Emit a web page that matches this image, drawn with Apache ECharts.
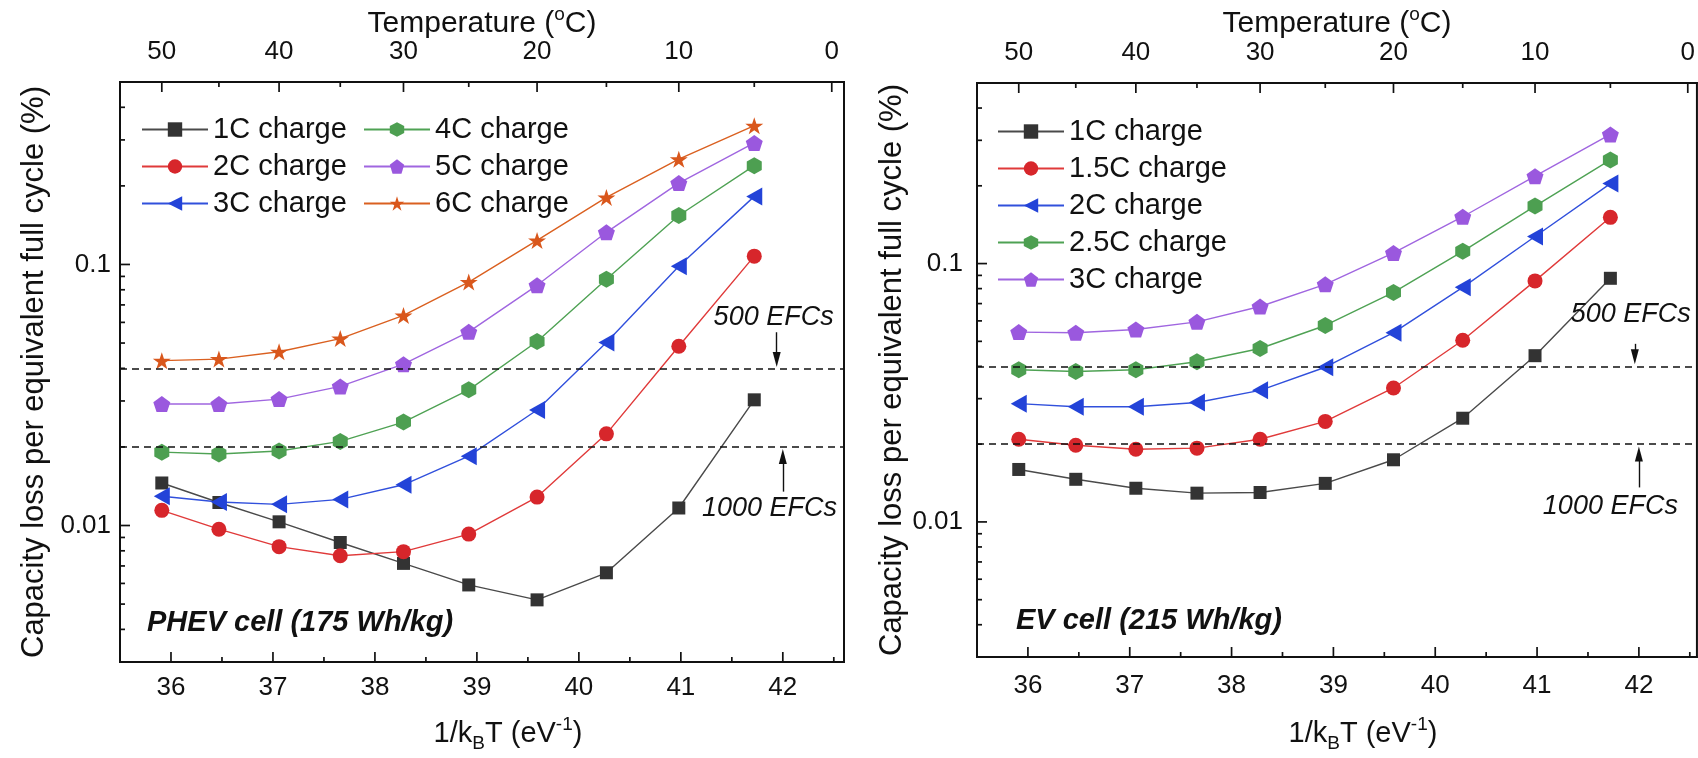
<!DOCTYPE html>
<html>
<head>
<meta charset="utf-8">
<script src="https://cdn.jsdelivr.net/npm/echarts@6/dist/echarts.min.js"></script>
<style>
  html, body { margin: 0; padding: 0; background: #fff; }
  #chart { width: 1698px; height: 758px; }
</style>
</head>
<body>
<div id="chart"></div>
<script>
// 1/kBT (eV^-1) of the test temperatures 50, 45, ..., 5 °C
const invKT = [35.91, 36.47, 37.06, 37.66, 38.28, 38.92, 39.59, 40.27, 40.98, 41.72];

// Temperature scale on the top axis, placed at the matching 1/kBT
const tempLabels = ['50', '40', '30', '20', '10', '0'];
const tempMajorPos = [35.91, 37.06, 38.28, 39.59, 40.98, 42.48];
const tempMinorPos = [36.47, 37.66, 38.92, 40.27, 41.72];

const xMajor = [36, 37, 38, 39, 40, 41, 42];
const xMinor = [36.5, 37.5, 38.5, 39.5, 40.5, 41.5, 42.5];
const yMajor = [0.01, 0.1];
const yMinor = [0.003, 0.004, 0.005, 0.006, 0.007, 0.008, 0.009,
                0.02, 0.03, 0.04, 0.05, 0.06, 0.07, 0.08, 0.09,
                0.2, 0.3, 0.4];

// Capacity loss per EFC (%) - PHEV cell (175 Wh/kg)
const phevNames = ['1C charge', '2C charge', '3C charge', '4C charge', '5C charge', '6C charge'];
const phev1C = [0.01455, 0.01225, 0.01033, 0.00861, 0.00716, 0.00592, 0.00519, 0.00659, 0.01167, 0.0303];
const phev2C = [0.01143, 0.00968, 0.00830, 0.00766, 0.00794, 0.00927, 0.01285, 0.02245, 0.0486, 0.1076];
const phev3C = [0.01294, 0.01231, 0.01205, 0.01259, 0.01432, 0.01844, 0.0277, 0.0502, 0.0985, 0.1823];
const phev4C = [0.0191, 0.0188, 0.0193, 0.0210, 0.0249, 0.0331, 0.0507, 0.0877, 0.154, 0.239];
const phev5C = [0.0292, 0.0292, 0.0305, 0.0341, 0.0415, 0.0552, 0.0832, 0.1328, 0.205, 0.292];
const phev6C = [0.0428, 0.0434, 0.0463, 0.0520, 0.0638, 0.0856, 0.1236, 0.1807, 0.253, 0.340];

// Capacity loss per EFC (%) - EV cell (215 Wh/kg)
const evNames = ['1C charge', '1.5C charge', '2C charge', '2.5C charge', '3C charge'];
const ev1C = [0.01596, 0.01462, 0.01350, 0.01292, 0.01300, 0.01410, 0.01740, 0.0252, 0.0440, 0.0877];
const ev15C = [0.0209, 0.0198, 0.0191, 0.0193, 0.0209, 0.0245, 0.0330, 0.0505, 0.0857, 0.151];
const ev2C = [0.0287, 0.0279, 0.0279, 0.0290, 0.0323, 0.0397, 0.0540, 0.0809, 0.1273, 0.204];
const ev25C = [0.0388, 0.0382, 0.0388, 0.0417, 0.0469, 0.0576, 0.0773, 0.1115, 0.167, 0.252];
const ev3C = [0.0543, 0.0540, 0.0556, 0.0595, 0.0682, 0.0831, 0.1099, 0.1518, 0.218, 0.316];

// Lifetime limits (20 % capacity loss after 500 / 1000 EFCs)
const efcLimits = [0.04, 0.02];

const FONT = '"Liberation Sans", Arial, Helvetica, sans-serif';
const INK = '#111';

const SYM = {
  square: 'rect',
  circle: 'circle',
  triLeft: 'path://M-1,0 L1,-1 L1,1 Z',
  hexagon: 'path://M0,-1 L0.866,-0.5 L0.866,0.5 L0,1 L-0.866,0.5 L-0.866,-0.5 Z',
  pentagon: 'path://M0,-1 L0.951,-0.309 L0.588,0.809 L-0.588,0.809 L-0.951,-0.309 Z',
  star: 'path://M0,-1 L0.2245,-0.309 L0.951,-0.309 L0.363,0.118 L0.588,0.809 L0,0.382 L-0.588,0.809 L-0.363,0.118 L-0.951,-0.309 L-0.2245,-0.309 Z'
};

const STYLES = {
  black:  { mark: '#333333', line: '#4a4a4a', symbol: SYM.square, size: 13 },
  red:    { mark: '#d7262b', line: '#e03a3a', symbol: SYM.circle, size: 15 },
  blue:   { mark: '#2343d8', line: '#3150dc', symbol: SYM.triLeft, size: [16, 18] },
  green:  { mark: '#4d9f51', line: '#4fa254', symbol: SYM.hexagon, size: [15, 17] },
  purple: { mark: '#9a58de', line: '#a066e0', symbol: SYM.pentagon, size: [17, 16] },
  orange: { mark: '#d9571c', line: '#da6020', symbol: SYM.star, size: [18, 17] }
};

const GRIDS = [
  { left: 120, top: 82, width: 724, height: 581 },
  { left: 977, top: 83, width: 720, height: 582 }
];
const xRange = [[35.5, 42.6], [35.5, 42.57]];
const yRange = [0.003, 0.5];

function makeSeries(prefix, name, values, style, gi) {
  return {
    name: prefix + '|' + name,
    type: 'line',
    xAxisIndex: gi * 2,
    yAxisIndex: gi,
    data: invKT.map((x, i) => [x, values[i]]),
    symbol: style.symbol,
    symbolSize: style.size,
    itemStyle: { color: style.mark },
    lineStyle: { color: style.line, width: 1.4 },
    z: 3
  };
}

function limitMarks(p) {
  const dashed = { color: INK, type: [7, 5], width: 1.6 };
  const solid = { color: INK, type: 'solid', width: 1.4 };
  return {
    markLine: {
      silent: true, animation: false, symbol: 'none',
      label: { show: false },
      lineStyle: dashed,
      data: [
        { yAxis: efcLimits[0], lineStyle: dashed },
        { yAxis: efcLimits[1], lineStyle: dashed },
        [{ coord: [p.a500x, p.a500y0], symbol: 'none', lineStyle: solid },
         { coord: [p.a500x, p.a500y1], symbol: 'triangle', symbolSize: [8, 15], lineStyle: solid }],
        [{ coord: [p.a1000x, p.a1000y0], symbol: 'none', lineStyle: solid },
         { coord: [p.a1000x, p.a1000y1], symbol: 'triangle', symbolSize: [8, 15], lineStyle: solid }]
      ]
    },
    markPoint: {
      silent: true, animation: false, symbol: 'circle', symbolSize: 0,
      label: { show: true, position: 'inside', formatter: '{b}', fontFamily: FONT,
               fontSize: 27, fontStyle: 'italic', color: INK },
      data: [
        { name: '500 EFCs', coord: [p.t500x, p.t500y] },
        { name: '1000 EFCs', coord: [p.t1000x, p.t1000y] }
      ]
    }
  };
}

const axisLine = { show: true, lineStyle: { color: INK, width: 2 } };

const scripts = {
  gap: { width: 52, fontSize: 29, fontFamily: FONT },
  sub: { fontSize: 19, lineHeight: 19, fontFamily: FONT, color: INK, verticalAlign: 'bottom' },
  sup: { fontSize: 19, lineHeight: 19, fontFamily: FONT, color: INK, verticalAlign: 'top' }
};

function xAxesFor(gi, labelMargin, nameGap, topLabelMargin, topNameGap) {
  const [min, max] = xRange[gi];
  return [
    { // bottom: 1/kBT
      type: 'value', gridIndex: gi, position: 'bottom', min, max,
      axisLine, axisTick: { show: false },
      axisLabel: { customValues: xMajor, margin: labelMargin, fontSize: 26, color: INK, fontFamily: FONT },
      splitLine: { show: false },
      name: '{gap| }1/k{sub|B}T (eV{sup|-1})', nameLocation: 'middle', nameGap,
      nameTextStyle: { fontSize: 29, lineHeight: 38, color: INK, fontFamily: FONT, rich: scripts }
    },
    { // top: temperature
      type: 'value', gridIndex: gi, position: 'top', min, max,
      axisLine, axisTick: { show: false },
      axisLabel: {
        customValues: tempMajorPos, margin: topLabelMargin, fontSize: 26, color: INK, fontFamily: FONT,
        formatter: v => { const i = tempMajorPos.indexOf(v); return i >= 0 ? tempLabels[i] : ''; }
      },
      splitLine: { show: false },
      name: 'Temperature ({sup|o}C)', nameLocation: 'middle', nameGap: topNameGap, nameMoveOverlap: false,
      nameTextStyle: { fontSize: 30, lineHeight: 38, color: INK, fontFamily: FONT, rich: { sup: scripts.sup } }
    }
  ];
}

function yAxisFor(gi, labelMargin, nameGap) {
  return {
    type: 'log', logBase: 10, gridIndex: gi, min: yRange[0], max: yRange[1],
    axisLine, axisTick: { show: false },
    axisLabel: { customValues: yMajor, margin: labelMargin, fontSize: 26, color: INK, fontFamily: FONT },
    splitLine: { show: false }, minorTick: { show: false },
    name: 'Capacity loss per equivalent full cycle (%)', nameLocation: 'middle', nameGap,
    nameTextStyle: { fontSize: 31, color: INK, fontFamily: FONT }
  };
}

const phevSeries = [
  makeSeries('PHEV', phevNames[0], phev1C, STYLES.black, 0),
  makeSeries('PHEV', phevNames[1], phev2C, STYLES.red, 0),
  makeSeries('PHEV', phevNames[2], phev3C, STYLES.blue, 0),
  makeSeries('PHEV', phevNames[3], phev4C, STYLES.green, 0),
  makeSeries('PHEV', phevNames[4], phev5C, STYLES.purple, 0),
  makeSeries('PHEV', phevNames[5], phev6C, STYLES.orange, 0)
];
Object.assign(phevSeries[0], limitMarks({
  a500x: 41.94, a500y0: 0.055, a500y1: 0.0432,
  a1000x: 42.0, a1000y0: 0.01348, a1000y1: 0.0184,
  t500x: 41.91, t500y: 0.0628, t1000x: 41.87, t1000y: 0.0116
}));

const evSeries = [
  makeSeries('EV', evNames[0], ev1C, STYLES.black, 1),
  makeSeries('EV', evNames[1], ev15C, STYLES.red, 1),
  makeSeries('EV', evNames[2], ev2C, STYLES.blue, 1),
  makeSeries('EV', evNames[3], ev25C, STYLES.green, 1),
  makeSeries('EV', evNames[4], ev3C, STYLES.purple, 1)
];
Object.assign(evSeries[0], limitMarks({
  a500x: 41.96, a500y0: 0.0489, a500y1: 0.0436,
  a1000x: 42.0, a1000y0: 0.0136, a1000y1: 0.0183,
  t500x: 41.92, t500y: 0.0637, t1000x: 41.72, t1000y: 0.0115
}));

function legendCol(left, top, names) {
  return {
    orient: 'vertical', left, top, itemWidth: 66, itemHeight: 18, itemGap: 8,
    data: names,
    formatter: n => n.split('|')[1],
    textStyle: { fontSize: 29, color: INK, fontFamily: FONT }
  };
}

const panelLabels = [
  { type: 'text', left: 147, top: 608, style: { text: 'PHEV cell (175 Wh/kg)', font: 'italic bold 29px ' + FONT, fill: INK } },
  { type: 'text', left: 1016, top: 606, style: { text: 'EV cell (215 Wh/kg)', font: 'italic bold 29px ' + FONT, fill: INK } }
];

const option = {
  animation: false,
  textStyle: { fontFamily: FONT },
  grid: GRIDS.map(g => Object.assign({ show: true, borderColor: INK, borderWidth: 2, backgroundColor: 'transparent' }, g)),
  xAxis: [].concat(xAxesFor(0, 13, 53, 17, 39), xAxesFor(1, 16, 58, 17, 40)),
  yAxis: [yAxisFor(0, 9, 70), yAxisFor(1, 14, 69)],
  legend: [
    legendCol(136, 110, phevSeries.slice(0, 3).map(s => s.name)),
    legendCol(358, 110, phevSeries.slice(3).map(s => s.name)),
    legendCol(992, 112, evSeries.map(s => s.name))
  ],
  graphic: panelLabels,
  series: phevSeries.concat(evSeries)
};

const chart = echarts.init(document.getElementById('chart'), null, { renderer: 'canvas' });
chart.setOption(option);

// Inward frame ticks (bottom, top, left), positioned through each grid's axes
function frameTicks(gi) {
  const finder = { xAxisIndex: gi * 2, yAxisIndex: gi };
  const [x0, x1] = xRange[gi];
  const px = (x, y) => chart.convertToPixel(finder, [x, y]);
  const line = (a, b) => ({ type: 'line', z: 100, silent: true,
    shape: { x1: a[0], y1: a[1], x2: b[0], y2: b[1] }, style: { stroke: INK, lineWidth: 1.7 } });
  const out = [];
  const up = (x, len) => { const p = px(x, yRange[0]); out.push(line(p, [p[0], p[1] - len])); };
  const down = (x, len) => { const p = px(x, yRange[1]); out.push(line(p, [p[0], p[1] + len])); };
  const right = (y, len) => { const p = px(x0, y); out.push(line(p, [p[0] + len, p[1]])); };
  xMajor.forEach(v => up(v, 10));
  xMinor.filter(v => v < x1).forEach(v => up(v, 5));
  tempMajorPos.forEach(v => down(v, 10));
  tempMinorPos.forEach(v => down(v, 5));
  yMajor.forEach(v => right(v, 10));
  yMinor.filter(v => v > yRange[0]).forEach(v => right(v, 5));
  return out;
}

try {
  const ticks = frameTicks(0).concat(frameTicks(1));
  chart.setOption({ graphic: panelLabels.concat(ticks) });
} catch (e) {
  chart.setOption({ graphic: panelLabels });
}
</script>
</body>
</html>
